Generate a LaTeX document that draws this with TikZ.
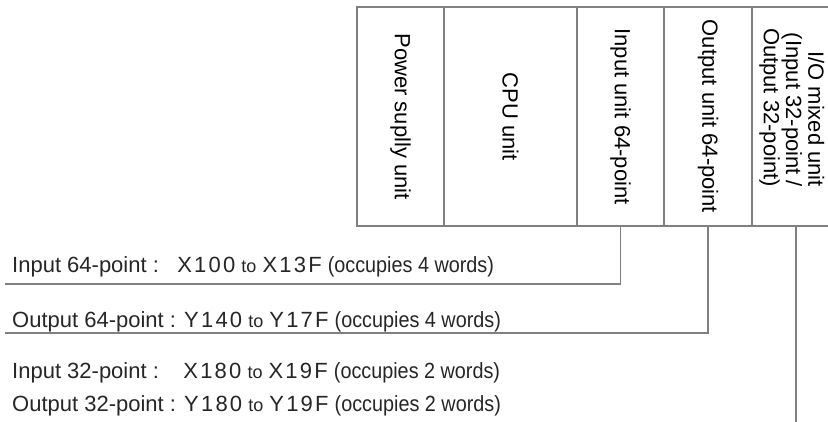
\documentclass[tikz,border=0pt]{standalone}
\usepackage{fontspec}
\setmainfont{Liberation Sans}
\usetikzlibrary{positioning}
\definecolor{wiregray}{RGB}{128,128,128}
\newcommand{\smallto}{{\fontsize{18}{20}\selectfont to}}
\newcommand{\occ}[1]{{\addfontfeature{FakeStretch=0.9}\fontsize{22}{24}\selectfont (occupies #1 words)}}
\newcommand{\addr}[1]{{\addfontfeature{LetterSpace=10}#1}}

\begin{document}
\begin{tikzpicture}[x=1pt,y=-1pt,
  unitbox/.style={draw=wiregray,line width=1.2pt,minimum height=219pt,inner sep=0pt,outer sep=0pt,anchor=north west},
  wire/.style={draw=wiregray,line width=1.4pt},
  addrlabel/.style={anchor=base west,inner sep=0pt,text=black!85}]
\clip (0,0) rectangle (828,422);
\fontsize{22}{21}\selectfont
  % units of the PLC base
  \node[unitbox,minimum width=87pt] (psu) at (357,7) {\rotatebox{-90}{Power suplly unit}};
  \node[unitbox,minimum width=133pt,right=0pt of psu] (cpu) {\rotatebox{-90}{CPU unit}};
  \node[unitbox,minimum width=87pt,right=0pt of cpu] (in64) {\rotatebox{-90}{Input unit 64-point}};
  \node[unitbox,minimum width=88pt,right=0pt of in64] (out64) {\rotatebox{-90}{Output unit 64-point}};
  \node[unitbox,minimum width=88pt,right=0pt of out64] (io) {\rotatebox{-90}{\raisebox{0pt}[\dimexpr\height+10pt\relax]{\begin{tabular}{@{}r@{}}I/O mixed unit\\(Input 32-point /\\Output 32-point)\end{tabular}}\hspace*{18pt}}};
  % address labels
  \node[addrlabel] (lin64) at (12,273) {Input 64-point :\ \ \ \addr{X100} \smallto\ \addr{X13F} \occ{4}};
  \node[addrlabel] (lout64) at (12,327) {Output 64-point : \addr{Y140} \smallto\ \addr{Y17F} \occ{4}};
  \node[addrlabel] (lin32) at (12,378) {Input 32-point :\ \ \ \ \addr{X180} \smallto\ \addr{X19F} \occ{2}};
  \node[addrlabel] (lout32) at (12,411) {Output 32-point : \addr{Y180} \smallto\ \addr{Y19F} \occ{2}};
  \coordinate (ein64) at (5,284);
  \coordinate (eout64) at (5,333);
  \coordinate (eio) at (796,422);
  % connectors
  \draw[wire] (in64.south) |- (ein64);
  \draw[wire] (out64.south) |- (eout64);
  \draw[wire] (io.south) -- (eio);
\end{tikzpicture}
\end{document}
